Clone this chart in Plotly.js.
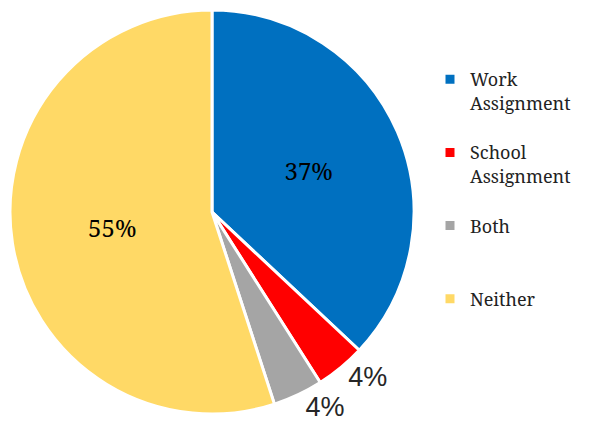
<!DOCTYPE html>
<html>
<head>
<meta charset="utf-8">
<script src="https://cdn.plot.ly/plotly-3.0.1.min.js"></script>
<style>html,body{margin:0;padding:0;background:#fff;}#chart{width:603px;height:438px;}
.preload{position:absolute;left:-2000px;top:0;}</style>
</head>
<body>
<div class="preload" style="font-family:'Noto Serif';font-size:18px">Work Assignment School Both Neither 37% 55%</div>
<div class="preload" style="font-family:'Liberation Sans';font-size:27px">4%</div>
<div id="chart"></div>
<script>
const categories = ['Work<br>Assignment<br> ', 'School<br>Assignment<br> ', 'Both<br> <br> ', 'Neither<br> <br> '];
const shares = [37, 4, 4, 55];
const colors = ['#0070C0', '#FF0000', '#A5A5A5', '#FFD966'];
const textPositions = ['inside', 'outside', 'outside', 'inside'];

const W = 603, H = 438;
function buildTrace() {
  return {
    type: 'pie',
    labels: categories,
    values: shares,
    sort: false,
    direction: 'clockwise',
    rotation: 0,
    marker: {colors: colors, line: {color: '#ffffff', width: 3}},
    textinfo: 'percent',
    texttemplate: '%{percent:.0%}',
    textposition: textPositions,
    insidetextorientation: 'horizontal',
    insidetextfont: {family: 'Noto Serif', size: 24, color: '#000000'},
    outsidetextfont: {family: 'Liberation Sans', size: 27, color: '#262626'},
    hoverinfo: 'label+percent',
    domain: {x: [10 / W, 414 / W], y: [1 - 414 / H, 1 - 10 / H]},
    automargin: false
  };
}
function buildLayout() {
  return {
    width: W, height: H,
    margin: {l: 0, r: 0, t: 0, b: 0},
    paper_bgcolor: '#ffffff',
    showlegend: true,
    legend: {
      x: 430 / W, y: 1 - 61 / H, xanchor: 'left', yanchor: 'top',
      valign: 'top',
      font: {family: 'Noto Serif', size: 18, color: '#222222'},
      itemwidth: 30,
      traceorder: 'normal'
    }
  };
}
const config = {displayModeBar: false, staticPlot: true};
function draw() {
  return Plotly.newPlot('chart', [buildTrace()], buildLayout(), config);
}
draw();
if (document.fonts && document.fonts.load) {
  Promise.all([
    document.fonts.load('18px "Noto Serif"'),
    document.fonts.load('24px "Noto Serif"'),
    document.fonts.load('27px "Liberation Sans"')
  ]).then(function () {
    Plotly.purge('chart');
    draw();
  });
}
</script>
</body>
</html>
